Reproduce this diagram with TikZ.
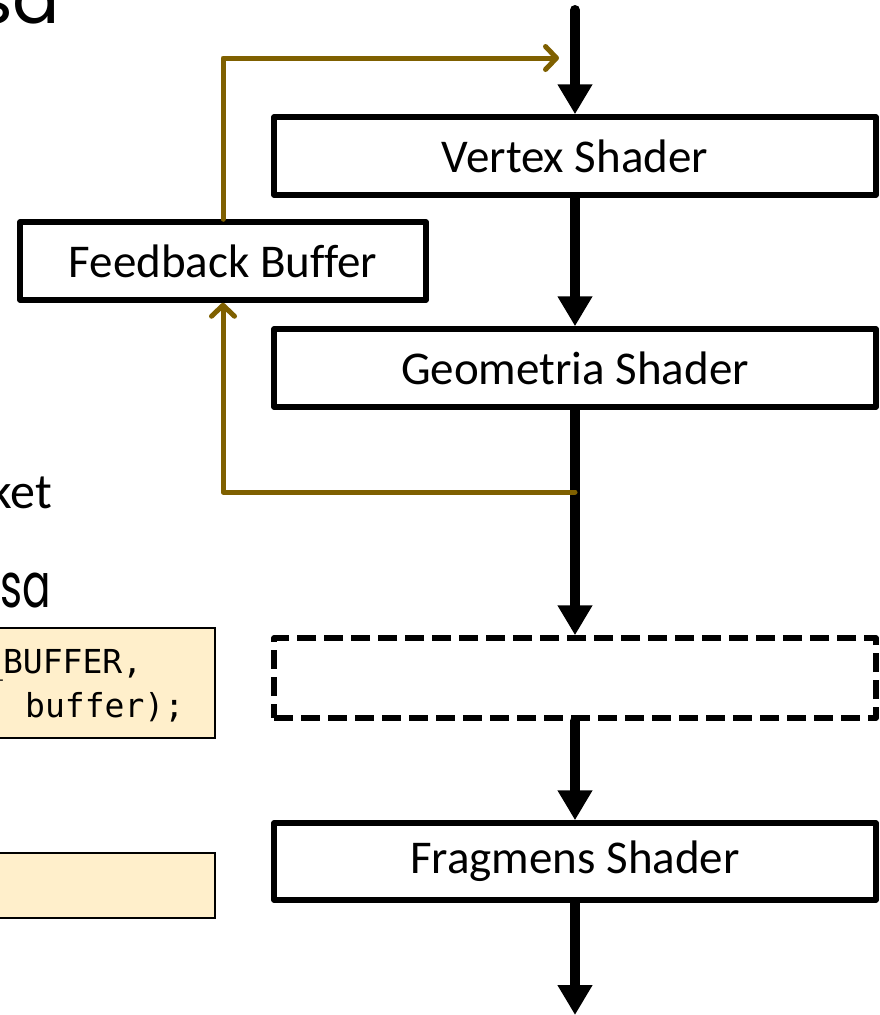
\documentclass[tikz,border=0pt]{standalone}
\usepackage{fontspec}
\setmainfont{Carlito}[Ligatures=NoCommon]
\newfontfamily\headfont{Poppins}
\newfontfamily\codefont{DejaVu Sans Mono}
\usetikzlibrary{arrows.meta}
\definecolor{fbbrown}{HTML}{7F6000}
\definecolor{codefill}{HTML}{FFEFCB}
\begin{document}
\begin{tikzpicture}[x=1pt,y=-1pt,
  stage/.style={draw,line width=5.5pt,line join=round,minimum width=602pt,minimum height=78pt,inner sep=0pt,font=\fontsize{47}{52}\selectfont},
  flow/.style={line width=10pt,line cap=round,-{Triangle[length=30pt,width=33pt]}},
  fback/.style={draw=fbbrown,line width=5pt,line cap=round,line join=round,-{Straight Barb[length=11pt,width=23pt,line cap=round,round]}},
  codebox/.style={draw,line width=2.5pt,fill=codefill},
  codetext/.style={anchor=base west,inner sep=0pt,font=\codefont\fontsize{33}{36}\selectfont},
  heading/.style={anchor=base west,inner sep=0pt,font=\headfont\fontsize{70}{70}\selectfont},
  bodytext/.style={anchor=base east,inner sep=0pt,font=\fontsize{50}{55}\selectfont}
]
\useasboundingbox[fill=white] (0,0) rectangle (879,1015);

% left background fragments
\node[heading] (title1) at (-24,23) {sa};
\node[bodytext] (ket) at (52,508) {ket};
\node[heading,font=\headfont\fontsize{62}{62}\selectfont] (title2) at (0,607) {\scalebox{0.68}[1]{sa}};
\path[codebox] (-10,628) rectangle (215,738);
\path[codebox] (-10,853) rectangle (215,918);
\node[codetext] (code1) at (-17,673) {\_BUFFER,};
\node[codetext] (code2) at (25,717) {buffer);};

% pipeline stages
\node[stage] (vs) at (575,156) {Vertex Shader};
\node[stage] (gs) at (575,368) {Geometria Shader};
\node[stage,dashed,dash pattern=on 19pt off 8pt,minimum height=80pt] (rs) at (575,678) {};
\node[stage,minimum height=77pt] (fs) at (575,861.5) {Fragmens Shader};
\node[stage,minimum width=406pt] (fb) at (223,261) {Feedback Buffer};

\coordinate (in) at (575,10);
\coordinate (out) at (575,1015);
\coordinate (branch) at (575,492);
\coordinate (fbin) at (559,58);

\draw[flow] (in) -- (vs.north);
\draw[flow] (vs.south) -- (gs.north);
\draw[flow] (gs.south) -- (rs.north);
\draw[flow] (rs.south) -- (fs.north);
\draw[flow] (fs.south) -- (out);

\draw[fback] (branch) -| (fb.south);
\draw[fback] (fb.north) |- (fbin);
\end{tikzpicture}
\end{document}
